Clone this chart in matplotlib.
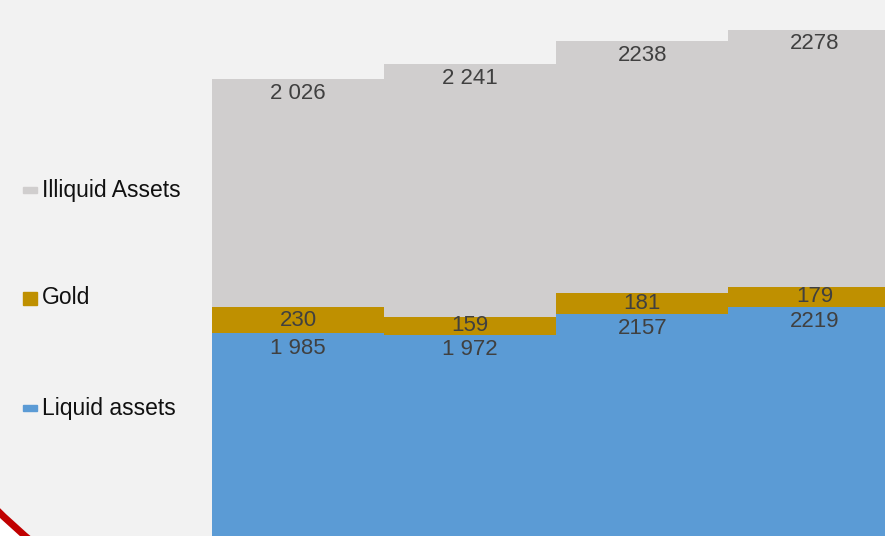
import matplotlib.pyplot as plt
import matplotlib.patches as mpatches
import numpy as np

plt.rcParams['font.family'] = ['Liberation Sans', 'DejaVu Sans']

periods = ["P1", "P2", "P3", "P4"]
liquid = [1985, 1972, 2157, 2219]
gold = [230, 159, 181, 179]
illiquid = [2026, 2241, 2238, 2278]

liquid_labels = ["1 985", "1 972", "2157", "2219"]
gold_labels = ["230", "159", "181", "179"]
illiquid_labels = ["2 026", "2 241", "2238", "2278"]

bg = "#f2f2f2"
c_liquid = "#5b9bd5"
c_gold = "#bf9000"
c_illiquid = "#d0cece"
txt = "#404040"

W, H = 885, 536
fig = plt.figure(figsize=(W / 100, H / 100), dpi=100, facecolor="white")

# big grey disc with red rim, only the corner of it shows at bottom-left
disc = mpatches.Circle((4.0, (H - 100) / 100), radius=5.75,
                       transform=fig.dpi_scale_trans,
                       facecolor=bg, edgecolor="#c00000", linewidth=5, zorder=-1)
fig.patches.append(disc)

ax = fig.add_axes([212 / W, 0, 1 - 212 / W, 1])
ax.patch.set_alpha(0)

x = np.arange(len(periods))
liquid = np.array(liquid)
gold = np.array(gold)
illiquid = np.array(illiquid)

ax.bar(x, liquid, width=1.0, color=c_liquid, label="Liquid assets")
ax.bar(x, gold, width=1.0, bottom=liquid, color=c_gold, label="Gold")
ax.bar(x, illiquid, width=1.0, bottom=liquid + gold, color=c_illiquid,
       label="Illiquid Assets")

fs = 16
for i in range(len(x)):
    ax.annotate(liquid_labels[i], (x[i], liquid[i]), xytext=(0, -15),
                textcoords="offset pixels", ha="center", va="center",
                fontsize=fs, color=txt)
    ax.annotate(gold_labels[i], (x[i], liquid[i] + gold[i] / 2),
                ha="center", va="center", fontsize=fs, color=txt)
    ax.annotate(illiquid_labels[i], (x[i], liquid[i] + gold[i] + illiquid[i]),
                xytext=(0, -14), textcoords="offset pixels",
                ha="center", va="center", fontsize=fs, color=txt)

ax.set_xlim(-0.5, 3.41)
ax.set_ylim(186, 4942)
ax.axis("off")

# legend on the left, drawn as markers + text
leg = [("Illiquid Assets", c_illiquid, 190, 6),
       ("Gold", c_gold, 298, 13),
       ("Liquid assets", c_liquid, 408, 6)]
for name, col, yc, h in leg:
    fig.patches.append(mpatches.Rectangle((23 / W, 1 - (yc + h / 2) / H), 14 / W, h / H,
                                          transform=fig.transFigure,
                                          color=col, zorder=3))
    fig.text(42 / W, 1 - yc / H, name, ha="left", va="center",
             fontsize=16.5, color="#111111")

plt.savefig("out.png", dpi=100, facecolor="white")
